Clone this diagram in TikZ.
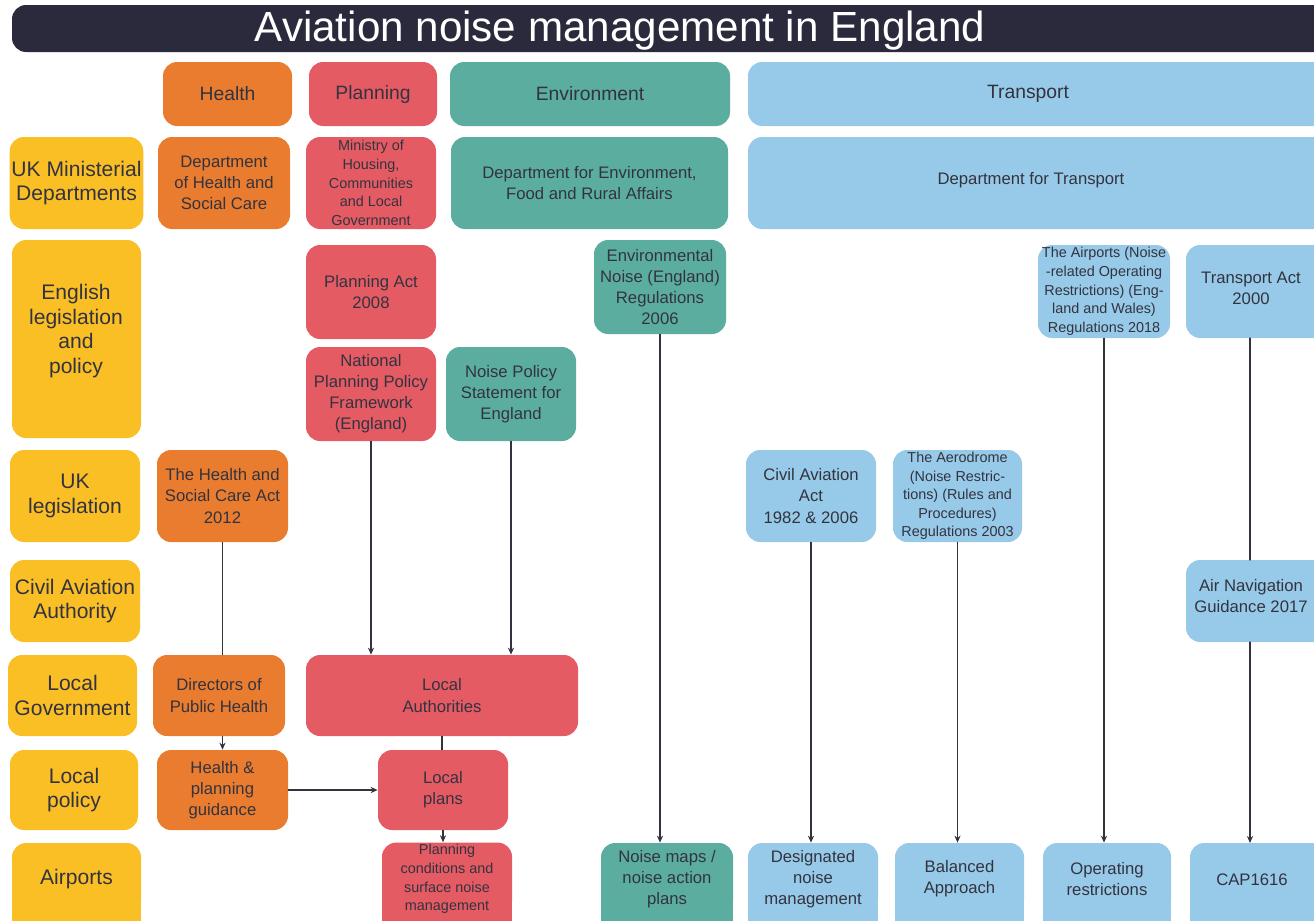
\documentclass[tikz,border=0pt]{standalone}
\usepackage{fontspec}
\setmainfont{Liberation Sans}
\usetikzlibrary{arrows.meta}
\definecolor{titlebg}{HTML}{2B2A3C}
\definecolor{rowyel}{HTML}{FBBF26}
\definecolor{health}{HTML}{E97C2E}
\definecolor{plan}{HTML}{E45B64}
\definecolor{env}{HTML}{5BAE9F}
\definecolor{transp}{HTML}{97CAE8}
\definecolor{ink}{HTML}{33333F}
% box from (x0,y0) to (x1,y1) in pixels
\newcommand{\bx}[7][]{\node[box,fill=#2,minimum width={(#5-#3)*0.02cm},minimum height={(#6-#4)*0.02cm},#1] (#7) at ({(#3+#5)/2},{(#4+#6)/2})}
\begin{document}
\begin{tikzpicture}[x=0.02cm, y=-0.02cm, line join=round, line cap=round, >={Stealth[length=4pt,width=3.5pt]},
  box/.style={rounded corners=8pt, inner sep=1pt, align=center, text=ink, font=\fontsize{9.5}{12}\selectfont},
  rowlab/.style={box, fill=rowyel, font=\fontsize{12}{14}\selectfont},
  head/.style={box, font=\fontsize{11}{13}\selectfont},
  small/.style={font=\fontsize{8.2}{10.6}\selectfont},
  arr/.style={->, draw=ink, line width=0.7pt},
  lin/.style={draw=ink, line width=0.7pt}]
 \useasboundingbox (0,0) rectangle (1314,920);
 % title
 \fill[titlebg, rounded corners=8pt] (12,5) rectangle (1340,52);
 \node[text=white, font=\fontsize{24}{28}\selectfont] (title) at (620,31) {Aviation noise management in England};
 % column heads
 \bx[head]{health}{163}{62}{292}{126}{hHealth} {Health};
 \bx[head]{plan}{309}{62}{437}{126}{hPlan} {Planning};
 \bx[head]{env}{450}{62}{730}{126}{hEnv} {Environment};
 \bx[head]{transp}{748}{62}{1340}{126}{hTrans} {};
 \node[head] at (1028,94) {Transport};
 % row labels
 \bx[rowlab]{rowyel}{12}{137}{141}{229}{rMin} {UK Ministerial\\Departments};
 \bx[rowlab]{rowyel}{12}{240}{141}{438}{rEng} {};
 \node[rowlab, fill=none] at (76,331) {English\\legislation\\and\\policy};
 \bx[rowlab]{rowyel}{10}{450}{140}{542}{rUK} {UK\\legislation};
 \bx[rowlab]{rowyel}{10}{560}{140}{642}{rCAA} {Civil Aviation\\Authority};
 \bx[rowlab]{rowyel}{8}{655}{137}{736}{rGov} {Local\\Government};
 \bx[rowlab]{rowyel}{10}{750}{138}{830}{rPol} {Local\\policy};
 % airports row runs off the bottom edge
 \foreach \c/\a/\b in {rowyel/12/141, plan/382/512, env/601/733, transp/748/878,
   transp/895/1024, transp/1043/1171, transp/1190/1340}
   \fill[\c] (\a,880) rectangle (\b,925);
 \bx[rowlab]{rowyel}{12}{843}{141}{915}{rAir} {Airports};
 % ministerial departments
 \bx{health}{158}{137}{290}{229}{dhsc} {Department\\of Health and\\Social Care};
 \bx[small]{plan}{306}{137}{436}{229}{mhclg} {Ministry of\\Housing,\\Communities\\and Local\\Government};
 \bx{env}{451}{137}{728}{229}{defra} {Department for Environment,\\Food and Rural Affairs};
 \bx{transp}{748}{137}{1340}{229}{dft} {};
 \node[box] at (1031,180) {Department for Transport};
 % English legislation and policy
 \bx{plan}{306}{245}{436}{339}{pa} {Planning Act\\2008};
 \bx{plan}{306}{347}{436}{441}{nppf} {National\\Planning Policy\\Framework\\(England)};
 \bx{env}{446}{347}{576}{441}{nps} {Noise Policy\\Statement for\\England};
 \bx{env}{594}{240}{726}{334}{enr} {Environmental\\Noise (England)\\Regulations\\2006};
 \bx[small]{transp}{1038}{245}{1170}{338}{aor} {The Airports (Noise\\-related Operating\\Restrictions) (Eng-\\land and Wales)\\Regulations 2018};
 \bx{transp}{1186}{245}{1340}{338}{ta} {};
 \node[box] at (1251,288) {Transport Act\\2000};
 % UK legislation
 \bx{health}{157}{450}{288}{542}{hsca} {The Health and\\Social Care Act\\2012};
 \bx{transp}{746}{450}{876}{542}{caa} {Civil Aviation\\Act\\1982 \& 2006};
 \bx[small]{transp}{893}{450}{1022}{542}{aero} {The Aerodrome\\(Noise Restric-\\tions) (Rules and\\Procedures)\\Regulations 2003};
 % Civil Aviation Authority
 \bx{transp}{1186}{560}{1340}{642}{ang} {};
 \node[box] at (1251,596) {Air Navigation\\Guidance 2017};
 % local government
 \bx{health}{153}{655}{285}{736}{dph} {Directors of\\Public Health};
 \bx{plan}{306}{655}{578}{736}{la} {Local\\Authorities};
 % local policy
 \bx{health}{157}{750}{288}{830}{hpg} {Health \&\\planning\\guidance};
 \bx{plan}{378}{750}{508}{830}{lp} {Local\\plans};
 % airports
 \bx[small]{plan}{382}{843}{512}{915}{pc} {Planning\\conditions and\\surface noise\\management};
 \bx{env}{601}{843}{733}{915}{nm} {Noise maps /\\noise action\\plans};
 \bx{transp}{748}{843}{878}{915}{dnm} {Designated\\noise\\management};
 \bx{transp}{895}{843}{1024}{915}{ba} {Balanced\\Approach};
 \bx{transp}{1043}{843}{1171}{915}{opr} {Operating\\restrictions};
 \bx{transp}{1190}{843}{1340}{915}{cap} {};
 \node[box] at (1252,880) {CAP1616};
 % connectors
 \draw[lin] (hsca.south) -- (hsca.south |- dph.north);
 \draw[arr] (dph.south -| hsca.south) -- (hsca.south |- hpg.north);
 \draw[arr] (nppf.south) -- (nppf.south |- la.north);
 \draw[arr] (nps.south) -- (nps.south |- la.north);
 \draw[lin] (la.south) -- (la.south |- lp.north);
 \draw[arr] (hpg.east) -- (lp.west);
 \draw[arr] (lp.south) -- (lp.south |- pc.north);
 \draw[arr] (enr.south) -- (enr.south |- nm.north);
 \draw[arr] (caa.south) -- (caa.south |- dnm.north);
 \draw[arr] (aero.south) -- (aero.south |- ba.north);
 \draw[arr] (aor.south) -- (aor.south |- opr.north);
 \draw[lin] (1250,338) -- (1250,560);
 \draw[arr] (1250,642) -- (1250,843);
\end{tikzpicture}
\end{document}
